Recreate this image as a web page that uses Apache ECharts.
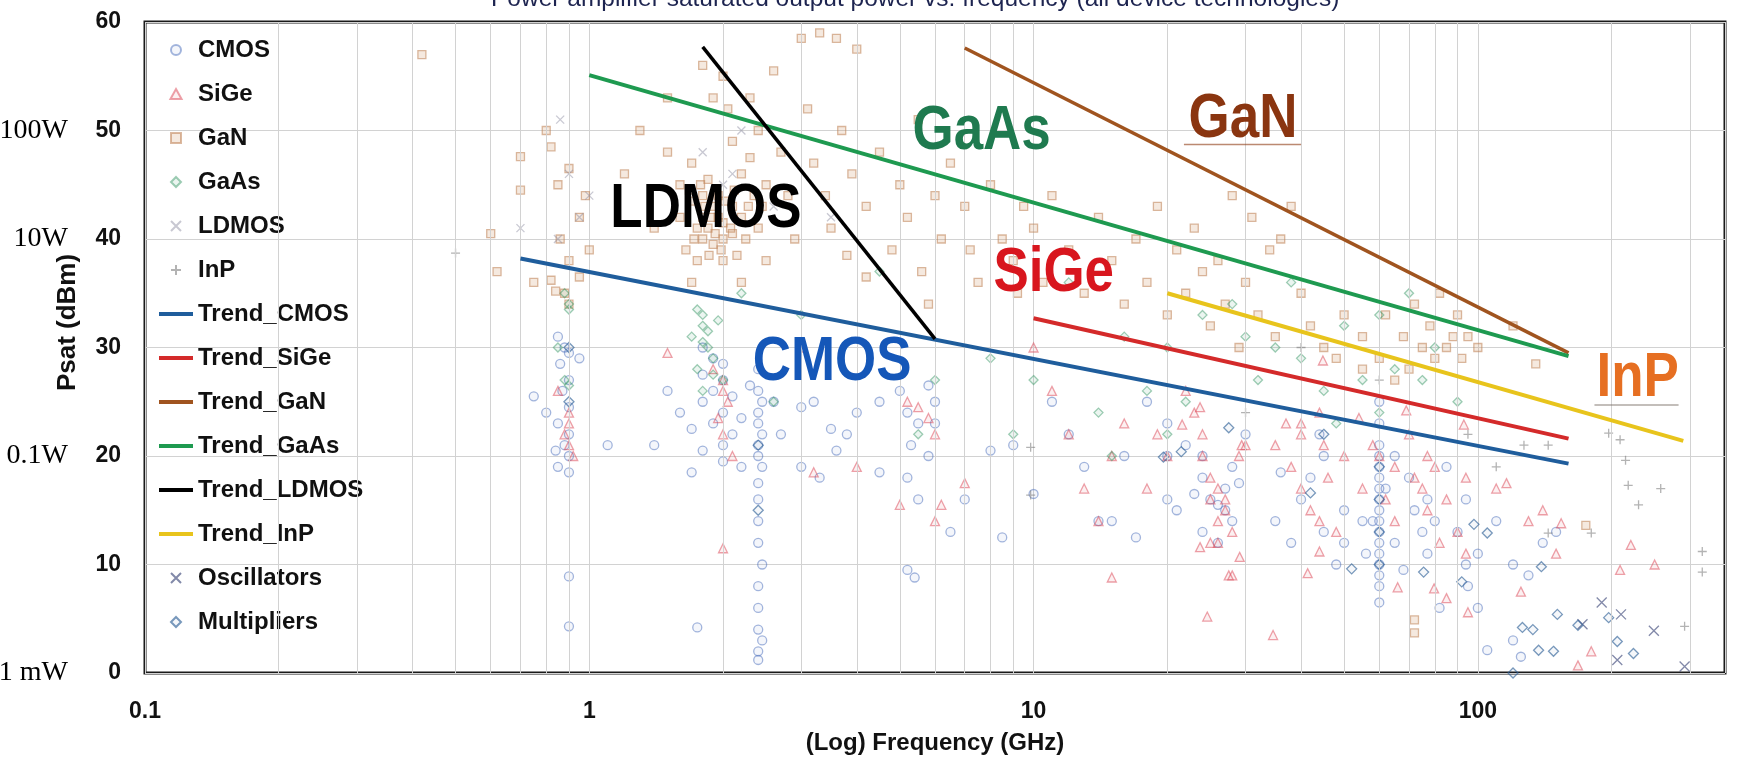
<!DOCTYPE html>
<html>
<head>
<meta charset="utf-8">
<script src="https://cdn.jsdelivr.net/npm/echarts@6/dist/echarts.min.js"></script>
<style>
html,body{margin:0;padding:0;background:#fff;}
#chart{width:1742px;height:768px;}
</style>
</head>
<body>
<div id="chart"></div>
<script>
// ---------------- data (frequency GHz, Psat dBm) ----------------
const cmos = [
[0.85,31],[0.88,30],[0.9,29.5],[0.86,28.5],[0.9,27],[0.87,26],[0.9,24.5],[0.85,23],[0.9,22],[0.88,21],[0.9,20],[0.85,19],[0.9,18.5],[0.8,24],[0.84,20.5],[0.9,8.9],[0.9,4.3],[0.75,25.5],[0.95,29],[1.1,21],
[1.5,26],[1.4,21],[1.6,24],[1.7,22.5],[1.7,18.5],[1.8,30],[1.9,29],[2.0,28.5],[1.8,27.5],[2.0,27],[1.9,26],[2.1,25.5],[1.8,25],[2.0,24],[1.9,23],[2.1,22],[2.0,21],[1.8,20.5],[2.0,19.5],[1.75,4.2],[2.2,23.5],[2.2,19],[2.3,26.5],
[2.4,28],[2.4,26],[2.45,25],[2.4,24],[2.4,23],[2.45,22],[2.4,21],[2.4,20],[2.45,19],[2.4,17.5],[2.4,16],[2.4,14],[2.4,12],[2.45,10],[2.4,8],[2.4,6],[2.4,4],[2.45,3],[2.4,2],[2.4,1.2],[2.6,25],[2.7,22],
[3,24.5],[3.2,25],[3.5,22.5],[3.8,22],[4,24],[4.5,25],[5,26],[5.2,24],[5.5,23],[5.3,21],[5.2,18],[5.5,16],[5.8,20],[6,25],[6,23],[5.2,9.5],[5.4,8.8],[3,19],[3.3,18],[4.5,18.5],[5.8,26.5],[6.5,13],[3.6,20.5],
[8,20.5],[9,21],[7,16],[8.5,12.5],[10,16.5],[11,25],[12,22],[14,14],[15,14],[16,20],[17,12.5],[18,25],[20,23],[20,20],[20,16],[21,15],[13,19],
[24,20],[24,18],[25,16],[26,15.5],[27,17],[27,15],[28,14],[28,19],[30,22],[24,13],[26,12],[22,21],[23,16.5],[29,17.5],
[35,14],[38,12],[40,16],[42,18],[45,20],[45,13],[48,10],[50,15],[50,12],[36,18.5],[44,22],
[60,25],[60,23],[60,21],[60,20],[60,19],[60,18],[60,17],[60,16],[60,15],[60,14],[60,13],[60,12],[60,11],[60,10],[60,9],[60,8],[60,6.5],[58,14],[62,17],[56,11],[65,12],[65,20],[55,14],
[70,18],[72,15],[75,13],[77,16],[77,11],[80,14],[85,19],[90,13],[94,10],[94,16],[100,11],[95,8],[68,9.5],[82,6],
[110,14],[120,10],[130,9],[140,12],[100,6],[120,3],[105,2.1],[150,13],[125,1.5]
];
const sige = [
[0.9,24],[0.9,23],[0.88,22],[0.9,21],[0.92,20],[0.85,26],
[1.5,29.5],[1.9,28],[2.0,27],[2.0,26],[2.05,25],[2.0,22],[2.0,11.5],[1.95,23.5],[2.1,20],
[3.2,18.5],[4,19],[5.2,25],[5.5,24.5],[5.8,23.5],[6,22],[6,14],[6.2,15.5],[5,15.5],[3,30],[7,17.5],
[10,30],[12,22],[13,17],[14,14],[15,20],[16,23],[15,8.8],[20,20],[18,17],[19,22],[11,26],
[21.6,22.9],[23.7,24.5],[22,26],[23,24],[24,22],[24,20],[25,18],[25,16],[26,17],[27,16],[27,15],[28,13],[26,12],[28,9],[29,20],[30,21],[24.6,5.2],[25,12],[26,14],[23.7,11.6],[27.5,9],[29.1,10.7],[29.4,21],
[35,21],[37,23],[38,19],[40,22],[40,17],[42,15],[44,24],[45,21],[46,18],[48,13],[50,20],[34.6,3.5],[44,14],[41.4,9.2],[44,11.2],[44.8,28.8],[40,23],[54,23.5],
[55,17],[58,21],[60,20],[62,16],[65,19],[65,14],[70,22],[72,18],[75,17],[77,15],[77,20],[80,19],[82,12],[85,16],[90,13],[94,18],[94,11],[66,7.9],[79.7,7.8],[85,6.9],[95,5.6],[69,24.2],[93,22.9],
[110,17],[116,17.5],[125,7.5],[130,14],[150,11],[154,13.8],[168,0.7],[180,2],[209,9.5],[221,11.8],[250,10],[140,15]
];
const gan = [
[0.42,57],[0.7,47.6],[0.7,44.5],[0.8,50],[0.82,48.5],[0.85,45],[0.9,46.5],[0.95,42],[0.86,40],[0.9,38],[0.95,36.5],[0.88,35],[0.9,34],[1.0,39],[0.98,44],[0.75,36],[0.6,40.5],[0.62,37],[0.82,36.2],[0.84,35.2],
[1.2,46],[1.3,50],[1.4,41],[1.5,53],[1.5,48],[1.6,45],[1.6,42],[1.65,39],[1.7,47],[1.7,43.5],[1.75,41],[1.75,38],[1.8,44],[1.8,42],[1.8,40],[1.85,45.5],[1.85,41],[1.9,43],[1.9,39.5],[1.95,42],[1.95,44],[2.0,40],[2.0,41.5],[2.0,38],[2.0,55],[2.05,52],[2.1,49],[2.1,43],[2.1,40.5],[2.2,46],[2.2,42],[2.3,53],[2.3,47.5],[2.35,44],[2.4,41],[2.4,50],[2.5,45],[2.5,38],[2.6,55.5],[2.7,48],[2.8,44],[2.9,40],[1.8,56],[1.9,53],[1.7,36],[2.2,36],
[1.82,43],[1.88,42],[1.92,40.5],[1.98,39],[2.02,43.5],[2.08,41],[1.86,38.5],[1.78,45],[2.12,44.5],[2.15,38.5],[2.25,40],[2.28,43],[1.72,40],[1.68,44.5],[2.45,43],
[3.0,58.5],[3.3,59],[3.6,58.5],[4.0,57.5],[3.1,52],[3.2,47],[3.4,44],[3.5,41],[3.7,50],[3.9,46],[4.2,43],[4.5,48],[4.8,39],[5.0,45],[5.2,42],[5.5,51],[5.6,37],[6.0,44],[6.2,40],[6.5,47],[7.0,43],[7.5,36],[8.0,45],[8.5,40],[9.0,38],[9.5,43],[4.2,36.5],[5.8,34],[7.2,39],[9.2,35],[3.8,38.5],
[10,41],[10.5,36],[11,44],[12,39],[13,35],[14,42],[15,38],[16,34],[17,40],[18,36],[19,43],[20,33],[21,39],[22,35],[23,41],[24,37],[25,32],[26,38],[27,34],[28,44],[29,30],[30,36],[31,42],[32,33],[34,39],[35,31],[36,40],[38,43],[40,35],[42,32],[45,30],[48,29],[50,33],
[55,31],[60,29],[62,33],[65,27],[68,31],[70,28],[72,34],[75,30],[78,32],[80,29],[82,35],[85,30],[88,31],[90,33],[92,29],[95,31],[100,30],[72,4.9],[72,3.7],[175,13.6],[135,28.5],[120,32],[55,28]
];
const gaas = [
[0.88,35],[0.9,34],[0.9,33.5],[0.88,27],[0.9,26.5],[0.85,30],
[1.75,33.5],[1.8,33],[1.8,32],[1.85,31.5],[1.8,30.5],[1.85,30],[1.9,29],[1.75,28],[1.9,27.5],[2.0,27],[1.8,26],[1.7,31],[1.95,32.5],
[2.2,35],[3,33],[4.5,37],[2.6,25],[5.5,22],[6,27],
[8,29],[9,22],[10,27],[12,36],[14,24],[18,26],[20,30],[22,25],[24,33],[28,34],[30,31],[35,30],[38,36],[40,29],[45,26],[50,32],[55,27],[60,33],[65,28],[70,35],[75,27],[80,30],[90,25],[20,22],[15,20],[32,27],[60,24],[16,31],[48,23]
];
const ldmos = [[0.86,51],[0.9,46],[0.95,42],[1.0,44],[1.8,48],[2.0,45],[2.1,46],[2.6,43],[0.7,41],[0.85,40],[2.2,50],[3.5,42]];
const inp = [[0.5,38.7],[9.85,20.8],[9.85,16.4],[144,12.9],[180,12.9],[127,21],[144,21],[197,22.1],[215,19.6],[209,21.5],[218,17.3],[258,17],[320,11.2],[320,9.3],[292,4.3],[110,19],[95,22],[60,27],[40,30],[30,24],[230,15.5]];
const oscillators = [[190,6.5],[210,5.4],[172,4.5],[206,1.2],[249,3.9],[292,0.6]];
const multipliers = [[139,9.8],[151,5.4],[126,4.2],[133,4.0],[137,2.1],[148,2.0],[168,4.4],[197,5.1],[206,2.9],[224,1.8],[120,0],[52,9.6],[92,8.4],[105,12.9],[98,13.7],[75.5,9.3],[19.6,19.9],[21.5,20.4],[27.5,22.6],[60,19],[60,16],[60,13],[60,10],[42,16.6],[0.9,25],[0.9,30],[2.4,21],[2.4,15],[45,22]];

const trendCMOS  = [[0.7,38.2],[160,19.3]];
const trendSiGe  = [[10,32.7],[160,21.6]];
const trendGaN   = [[7,57.6],[160,29.5]];
const trendGaAs  = [[1,55.1],[160,29.2]];
const trendLDMOS = [[1.8,57.7],[6,30.8]];
const trendInP   = [[20,35],[290,21.4]];

const annotations = [['LDMOS',1.83,42.7],['GaAs',7.64,49.9],['GaN',29.6,51.0],['SiGe',11.1,36.8],['CMOS',3.52,28.6],['InP',229,27.1]];
const ganUnderline = [[21.8,48.7],[40,48.7]];
const inpUnderline = [[183,24.7],[283,24.7]];

const xTickLabels = ['0.1','1','10','100'];
const minorFreqs = [0.2,0.3,0.4,0.5,0.6,0.7,0.8,0.9,2,3,4,5,6,7,8,9,20,30,40,50,60,70,80,90,200,300];
const wattTicks = [[50,'100W'],[40,'10W'],[20,'0.1W'],[0,'1 mW']];
const titleText = 'Power amplifier saturated output power vs. frequency (all device technologies)';

// ---------------- styles ----------------
const FONT = "'Liberation Sans', Arial, sans-serif";
const annColors = {LDMOS:'#000000', GaAs:'#1f7a4f', GaN:'#8a3510', SiGe:'#d8161e', CMOS:'#1557b8', InP:'#e66f22'};
const X_PATH = 'path://M0,0L10,10M10,0L0,10';
const PLUS_PATH = 'path://M5,0L5,10M0,5L10,5';
const TRI_PATH = 'path://M5,0L10,9L0,9Z';
const RECT_PATH = 'path://M0,0L9,0L9,9L0,9Z';
const DIAM_PATH = 'path://M5,0L10,5L5,10L0,5Z';
const LINE_ICON = 'path://M0,0L34,0L34,4L0,4Z';

function scatter(name, data, symbol, color, fill, size){
  return {
    name, type:'scatter', data, symbol, symbolSize: size || 9, z: 2,
    itemStyle:{color: fill, borderColor: color, borderWidth: 1.3},
    emphasis:{disabled:true}, animation:false
  };
}
function trend(name, data, color, width){
  return {
    name, type:'line', data, symbol:'none', showSymbol:false, z: 5,
    lineStyle:{color, width}, itemStyle:{color},
    emphasis:{disabled:true}, animation:false
  };
}

const wattMap = {};
wattTicks.forEach(t => { wattMap[t[0]] = t[1]; });

const chart = echarts.init(document.getElementById('chart'), null, {renderer:'canvas'});
const option = {
  backgroundColor:'#ffffff',
  animation:false,
  title:{
    text: titleText, left:486, top:-18,
    textStyle:{fontFamily:FONT, fontSize:24.5, fontWeight:'normal', color:'#1d2450'}
  },
  grid:{left:145, top:22, right:17, bottom:95, outerBoundsMode:'none', containLabel:false,
        show:true, borderColor:'#1a1a1a', borderWidth:3, backgroundColor:'#ffffff'},
  legend:{
    orient:'vertical', left:159, top:38, padding:0,
    itemWidth:34, itemHeight:10, itemGap:20, symbolKeepAspect:true,
    textStyle:{fontFamily:FONT, fontSize:24, fontWeight:'bold', color:'#111'},
    data:[
      {name:'CMOS', icon:'circle'},
      {name:'SiGe', icon:TRI_PATH},
      {name:'GaN', icon:RECT_PATH},
      {name:'GaAs', icon:DIAM_PATH},
      {name:'LDMOS', icon:X_PATH},
      {name:'InP', icon:PLUS_PATH},
      {name:'Trend_CMOS', icon:LINE_ICON},
      {name:'Trend_SiGe', icon:LINE_ICON},
      {name:'Trend_GaN', icon:LINE_ICON},
      {name:'Trend_GaAs', icon:LINE_ICON},
      {name:'Trend_LDMOS', icon:LINE_ICON},
      {name:'Trend_InP', icon:LINE_ICON},
      {name:'Oscillators', icon:X_PATH},
      {name:'Multipliers', icon:DIAM_PATH}
    ]
  },
  xAxis:{
    type:'log', logBase:10, min:0.1, max:360,
    name:'(Log) Frequency (GHz)', nameLocation:'middle', nameGap:58,
    nameTextStyle:{fontFamily:FONT, fontSize:24, fontWeight:'bold', color:'#111'},
    axisLine:{show:false}, axisTick:{show:false},
    axisLabel:{
      fontFamily:FONT, fontSize:23, fontWeight:'bold', color:'#111', margin:27,
      showMaxLabel:false,
      formatter: v => { const s = String(+v.toPrecision(6)); return xTickLabels.indexOf(s) >= 0 ? s : ''; }
    },
    splitLine:{show:true, lineStyle:{color:'#d2d2d2', width:1}}
  },
  yAxis:[{
    type:'value', min:0, max:60, interval:10,
    name:'Psat (dBm)', nameLocation:'middle', nameGap:64,
    nameTextStyle:{fontFamily:FONT, fontSize:26, fontWeight:'bold', color:'#111', padding:[0,0,0,50]},
    axisLine:{show:false}, axisTick:{show:false},
    axisLabel:{fontFamily:FONT, fontSize:23, fontWeight:'bold', color:'#111', margin:24},
    splitLine:{show:true, lineStyle:{color:'#d2d2d2', width:1}}
  },{
    type:'value', min:0, max:60, interval:10, position:'left', offset:77,
    axisLine:{show:false}, axisTick:{show:false}, splitLine:{show:false},
    axisLabel:{
      fontFamily:"'Liberation Serif', 'Times New Roman', serif", fontSize:28, color:'#000', margin:0,
      formatter: v => wattMap[v] || ''
    }
  }],
  series:[
    {
      name:'minorGrid', type:'line', data:[], silent:true, z:1, animation:false,
      markLine:{
        silent:true, symbol:['none','none'], label:{show:false}, animation:false,
        lineStyle:{color:'#d2d2d2', width:1, type:'solid'},
        emphasis:{disabled:true},
        data: minorFreqs.map(f => ({xAxis:f}))
      }
    },
    scatter('CMOS', cmos, 'circle', 'rgba(80,115,190,0.65)', 'rgba(80,115,190,0.08)'),
    scatter('SiGe', sige, 'triangle', 'rgba(220,75,90,0.65)', 'rgba(220,75,90,0.1)'),
    scatter('GaN', gan, 'rect', 'rgba(190,130,85,0.7)', 'rgba(205,145,95,0.25)', 8),
    scatter('GaAs', gaas, 'diamond', 'rgba(55,150,100,0.6)', 'rgba(55,150,100,0.12)'),
    scatter('LDMOS', ldmos, X_PATH, 'rgba(140,140,160,0.6)', 'rgba(0,0,0,0)', 8),
    scatter('InP', inp, PLUS_PATH, 'rgba(120,120,120,0.7)', 'rgba(0,0,0,0)', 9),
    trend('Trend_CMOS', trendCMOS, '#1f5d9c', 4),
    trend('Trend_SiGe', trendSiGe, '#d42a2a', 4),
    trend('Trend_GaN', trendGaN, '#a0541f', 3.5),
    trend('Trend_GaAs', trendGaAs, '#1e9a50', 4),
    trend('Trend_LDMOS', trendLDMOS, '#000000', 3.5),
    trend('Trend_InP', trendInP, '#e8c41c', 4),
    scatter('Oscillators', oscillators, X_PATH, 'rgba(60,70,120,0.8)', 'rgba(0,0,0,0)', 10),
    scatter('Multipliers', multipliers, 'diamond', 'rgba(45,95,150,0.8)', 'rgba(45,95,150,0.06)', 10),
    {
      name:'ganUnderline', type:'line', data:ganUnderline, symbol:'none', z:6, silent:true,
      lineStyle:{color:'rgba(142,59,18,0.6)', width:1.5}, animation:false
    },
    {
      name:'inpUnderline', type:'line', data:inpUnderline, symbol:'none', z:6, silent:true,
      lineStyle:{color:'rgba(120,110,100,0.6)', width:1.5}, animation:false
    },
    {
      name:'annotations', type:'custom', z:10, silent:true, animation:false,
      data: annotations.map(a => [a[1], a[2]]),
      encode:{x:0, y:1},
      renderItem: function(params, api){
        const name = annotations[params.dataIndex][0];
        const pt = api.coord([api.value(0), api.value(1)]);
        return {
          type:'text', x: pt[0], y: pt[1], scaleX: 0.84,
          style:{
            text: name, fill: annColors[name],
            fontFamily: FONT, fontSize: 63, fontWeight:'bold',
            align:'center', verticalAlign:'middle'
          }
        };
      }
    }
  ]
};
chart.setOption(option);
</script>
</body>
</html>
